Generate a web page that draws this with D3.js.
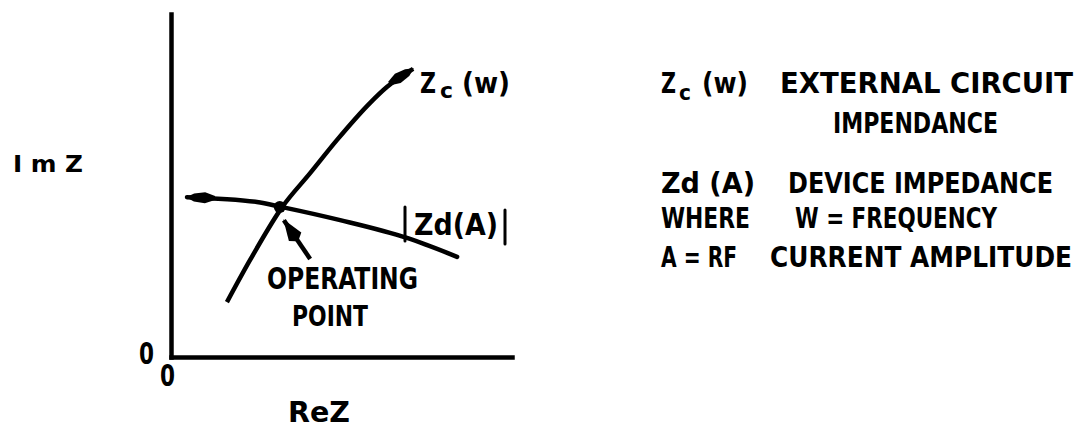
<!DOCTYPE html>
<html>
<head>
<title>Operating Point</title>
<script src="https://cdn.jsdelivr.net/npm/d3@7"></script>
<style>
html, body {
  margin: 0;
  background: #fff;
}
svg text {
  font-family: "DejaVu Sans Condensed", "DejaVu Sans", sans-serif;
  font-stretch: condensed;
  font-weight: bold;
  fill: #000;
}
.axis path {
  fill: none;
  stroke: #000;
  stroke-width: 4.5;
  stroke-linecap: square;
}
.curve {
  fill: none;
  stroke: #000;
  stroke-width: 4.5;
  stroke-linecap: round;
  stroke-linejoin: round;
}
</style>
</head>
<body>
<svg width="1088" height="428"></svg>
<script>

// Zc(w) external circuit curve (ReZ, ImZ in axis units)
var zcRe = [1.64, 2.32, 3.26, 4.08, 4.87, 5.84, 6.33, 7.10];
var zcIm = [1.60, 2.83, 4.37, 5.36, 6.33, 7.41, 7.87, 8.40];

// Zd(A) device curve
var zdRe = [0.47, 2.52, 3.26, 4.96, 6.92, 8.39];
var zdIm = [4.66, 4.52, 4.37, 3.99, 3.47, 2.92];

// operating point and its pointer arrow (tail -> tip)
var opRe = 3.19, opIm = 4.37;
var opArrowRe = [4.08, 3.31];
var opArrowIm = [2.86, 3.99];

var axisTicks = [];

var svg = d3.select("svg"),
    margin = {top: 14, right: 576, bottom: 71, left: 171},
    width = +svg.attr("width") - margin.left - margin.right,
    height = +svg.attr("height") - margin.top - margin.bottom;

var x = d3.scaleLinear().domain([0, 10]).range([0, width]),
    y = d3.scaleLinear().domain([0, 10]).range([height, 0]);

var defs = svg.append("defs");
defs.append("marker")
    .attr("id", "dart")
    .attr("markerUnits", "userSpaceOnUse")
    .attr("viewBox", "-30 -8 32 16")
    .attr("refX", 0).attr("refY", 0)
    .attr("markerWidth", 32).attr("markerHeight", 16)
    .attr("orient", "auto-start-reverse")
  .append("path")
    .attr("d", "M1,0 L-7,-4 L-18,-5.5 L-28,-2 L-28,2 L-18,5.5 L-7,4 Z")
    .attr("fill", "#000");
defs.append("marker")
    .attr("id", "pointer")
    .attr("markerUnits", "userSpaceOnUse")
    .attr("viewBox", "-26 -10 28 20")
    .attr("refX", 0).attr("refY", 0)
    .attr("markerWidth", 28).attr("markerHeight", 20)
    .attr("orient", "auto")
  .append("path")
    .attr("d", "M1,0 L-20,-7.5 L-24,-2 L-24,2 L-20,7.5 Z")
    .attr("fill", "#000");

var g = svg.append("g")
    .attr("transform", "translate(" + margin.left + "," + margin.top + ")");

g.append("g")
    .attr("class", "axis axis--x")
    .attr("transform", "translate(0," + height + ")")
    .call(d3.axisBottom(x).tickValues(axisTicks).tickSizeOuter(0));

g.append("g")
    .attr("class", "axis axis--y")
    .call(d3.axisLeft(y).tickValues(axisTicks).tickSizeOuter(0));

var line = d3.line()
    .x(function(d) { return x(d[0]); })
    .y(function(d) { return y(d[1]); })
    .curve(d3.curveMonotoneX);

g.append("path")
    .datum(d3.zip(zcRe, zcIm))
    .attr("class", "curve")
    .style("stroke-linecap", "butt")
    .attr("d", line)
    .attr("marker-end", "url(#dart)");

g.append("path")
    .datum(d3.zip(zdRe, zdIm))
    .attr("class", "curve")
    .attr("d", line)
    .attr("marker-start", "url(#dart)");

g.append("circle")
    .attr("cx", x(opRe))
    .attr("cy", y(opIm))
    .attr("r", 6)
    .attr("fill", "#000");

g.append("line")
    .attr("class", "curve")
    .style("stroke-linecap", "butt")
    .attr("x1", x(opArrowRe[0])).attr("y1", y(opArrowIm[0]))
    .attr("x2", x(opArrowRe[1])).attr("y2", y(opArrowIm[1]))
    .attr("marker-end", "url(#pointer)");

// |Zd(A)| bars
g.append("line").attr("class", "curve").style("stroke-width", 3)
    .attr("x1", 405 - margin.left).attr("x2", 405 - margin.left)
    .attr("y1", 207 - margin.top).attr("y2", 241 - margin.top);
g.append("line").attr("class", "curve").style("stroke-width", 3)
    .attr("x1", 505 - margin.left).attr("x2", 505 - margin.left)
    .attr("y1", 210 - margin.top).attr("y2", 244 - margin.top);

// text helper: x, baseline y, size, width
function label(str, tx, ty, size, w) {
    var t = svg.append("text")
        .attr("x", tx)
        .attr("y", ty)
        .style("font-size", size + "px")
        .text(str);
    if (w) t.attr("textLength", w).attr("lengthAdjust", "spacingAndGlyphs");
    return t;
}

label("0", 139, 364, 30, 15);
label("0", 160, 386, 30, 15);
label("I m Z", 13, 172, 23, 70);
label("ReZ", 288, 422, 28, 62);
label("OPERATING", 267, 289, 30, 151);
label("POINT", 292, 326, 29, 76);
label("Zd(A)", 414, 235, 30, 84);

// Zc (w) beside the arrow
label("Z", 420, 93, 29, 16);
label("c", 440, 98, 22, 13);
label("(w)", 462, 93, 29, 48);

// right-hand notes
label("Z", 661, 93, 29, 15);
label("c", 679, 100, 22, 12);
label("(w)", 702, 93, 29, 46);
label("EXTERNAL CIRCUIT", 780, 93, 29, 293);
label("IMPENDANCE", 833, 133, 29, 165);
label("Zd (A)", 661, 193, 29, 94);
label("DEVICE IMPEDANCE", 788, 193, 29, 265);
label("WHERE", 661, 228, 29, 89);
label("W = FREQUENCY", 795, 228, 29, 202);
label("A = RF", 661, 267, 29, 76);
label("CURRENT AMPLITUDE", 770, 267, 29, 302);

</script>
</body>
</html>
